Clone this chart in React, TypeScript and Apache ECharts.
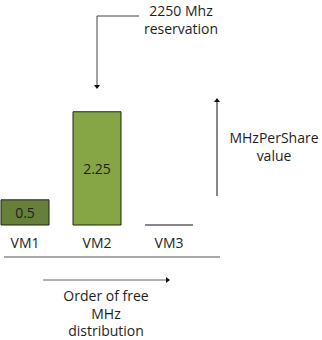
import React, { useEffect, useRef } from "react";
import * as echarts from "echarts";

const categories = ["VM1", "VM2", "VM3"];
const values = [0.5, 2.25, 0];
const barColors = ["#66803a", "#86a645", "#86a645"];
const valueLabels = ["0.5", "2.25", ""];
const topNote = "2250 Mhz\nreservation";
const rightNote = "MHzPerShare\nvalue";
const bottomNote = "Order of free\nMHz\ndistribution";

const FONT = "'Open Sans', 'Segoe UI', sans-serif";
const FS = 14;

export default function App() {
  const ref = useRef<HTMLDivElement>(null);
  useEffect(() => {
    document.body.style.margin = "0";
    const chart = echarts.init(ref.current!, null, { renderer: "svg" });
    const data = values.map((v, i) => [i, v]);
    chart.setOption({
      animation: false,
      backgroundColor: "#ffffff",
      grid: { left: -11, width: 216, top: 74, bottom: 115, containLabel: false, outerBoundsMode: "none" },
      xAxis: {
        type: "category",
        data: categories,
        axisLine: { show: false },
        axisTick: { show: false },
        axisLabel: { color: "#1e1e1e", fontFamily: FONT, fontSize: FS, margin: 10 },
      },
      yAxis: { type: "value", min: 0, max: 3, show: false, splitLine: { show: false } },
      series: [
        {
          type: "custom",
          data,
          renderItem: (params: any, api: any) => {
            const idx = api.value(0);
            const v = api.value(1);
            const top = api.coord([idx, v]);
            const base = api.coord([idx, 0]);
            const bw = api.size([1, 0])[0] * (48 / 72);
            const x = top[0] - bw / 2;
            if (v === 0) {
              return {
                type: "line",
                shape: { x1: x, y1: base[1], x2: x + bw, y2: base[1] },
                style: { stroke: "#111", lineWidth: 1 },
              };
            }
            return {
              type: "group",
              children: [
                {
                  type: "rect",
                  shape: { x: x, y: top[1], width: bw, height: base[1] - top[1] },
                  style: { fill: barColors[params.dataIndex], stroke: "#1c2610", lineWidth: 1 },
                },
                {
                  type: "text",
                  x: top[0],
                  y: (top[1] + base[1]) / 2,
                  style: {
                    text: valueLabels[params.dataIndex],
                    fill: "#1e1e1e",
                    font: `${FS}px ${FONT}`,
                    align: "center",
                    verticalAlign: "middle",
                  },
                },
              ],
            };
          },
        },
      ],
      graphic: [
        { type: "line", shape: { x1: 4, y1: 257, x2: 220, y2: 257 }, style: { stroke: "#555", lineWidth: 1 } },
        // top connector
        { type: "polyline", shape: { points: [[139, 16], [97, 16], [97, 85]] }, style: { stroke: "#444", lineWidth: 1, fill: "none" } },
        { type: "polygon", shape: { points: [[94, 85], [100, 85], [97, 89]] }, style: { fill: "#111" } },
        {
          type: "text", x: 181, y: 19.5,
          style: { text: topNote, fill: "#1e1e1e", font: `${FS}px ${FONT}`, align: "center", verticalAlign: "middle", lineHeight: 18 },
        },
        // right arrow
        { type: "line", shape: { x1: 217, y1: 196, x2: 217, y2: 102 }, style: { stroke: "#111", lineWidth: 1 } },
        { type: "polygon", shape: { points: [[214, 102], [220, 102], [217, 98]] }, style: { fill: "#111" } },
        {
          type: "text", x: 274, y: 146.5,
          style: { text: rightNote, fill: "#1e1e1e", font: `${FS}px ${FONT}`, align: "center", verticalAlign: "middle", lineHeight: 18 },
        },
        // bottom arrow
        { type: "line", shape: { x1: 43, y1: 280, x2: 166, y2: 280 }, style: { stroke: "#666", lineWidth: 1 } },
        { type: "polygon", shape: { points: [[166, 277], [166, 283], [170, 280]] }, style: { fill: "#111" } },
        {
          type: "text", x: 106, y: 313,
          style: { text: bottomNote, fill: "#1e1e1e", font: `${FS}px ${FONT}`, align: "center", verticalAlign: "middle", lineHeight: 17.5 },
        },
      ],
    });
    return () => chart.dispose();
  }, []);
  return <div ref={ref} style={{ position: "fixed", left: 0, top: 0, width: 322, height: 340 }} />;
}
